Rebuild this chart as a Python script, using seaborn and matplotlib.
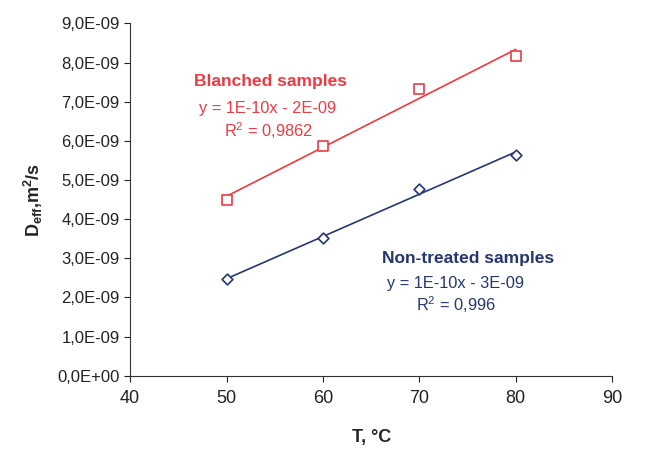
import numpy as np
import pandas as pd
import matplotlib
matplotlib.use('Agg')
import matplotlib.pyplot as plt
import seaborn as sns
from matplotlib.ticker import FuncFormatter, MultipleLocator

# data
temp = [50, 60, 70, 80]
blanched = [4.48e-09, 5.87e-09, 7.33e-09, 8.16e-09]
non_treated = [2.46e-09, 3.52e-09, 4.77e-09, 5.64e-09]

red = '#EE3A43'
navy = '#263672'

sns.set_style('ticks')
plt.rcParams['font.family'] = ['Liberation Sans', 'DejaVu Sans']
plt.rcParams['mathtext.fontset'] = 'custom'
plt.rcParams['mathtext.rm'] = 'Liberation Sans'
plt.rcParams['mathtext.bf'] = 'Liberation Sans:bold'

df = pd.DataFrame({'T': temp + temp,
                   'D': blanched + non_treated,
                   'group': ['Blanched'] * 4 + ['Non-treated'] * 4})

fig, ax = plt.subplots(figsize=(6.54, 4.49), dpi=100)
fig.subplots_adjust(left=0.199, right=0.936, top=0.948, bottom=0.163)

# trend lines
sns.regplot(data=df[df.group == 'Blanched'], x='T', y='D', ci=None, scatter=False,
            ax=ax, line_kws={'color': red, 'lw': 1.2})
sns.regplot(data=df[df.group == 'Non-treated'], x='T', y='D', ci=None, scatter=False,
            ax=ax, line_kws={'color': navy, 'lw': 1.2})

# markers
sns.scatterplot(data=df[df.group == 'Blanched'], x='T', y='D', marker='s', s=45,
                facecolor='white', edgecolor=red, linewidth=1.2, ax=ax, zorder=3)
sns.scatterplot(data=df[df.group == 'Non-treated'], x='T', y='D', marker='D', s=30,
                facecolor='white', edgecolor=navy, linewidth=1.2, ax=ax, zorder=3)

ax.set_xlim(40, 90)
ax.set_ylim(0, 9e-09)
ax.xaxis.set_major_locator(MultipleLocator(10))
ax.yaxis.set_major_locator(MultipleLocator(1e-09))
ax.yaxis.set_major_formatter(FuncFormatter(lambda v, p: f'{v:.1E}'.replace('.', ',')))
ax.yaxis.get_offset_text().set_visible(False)
ax.tick_params(axis='y', labelsize=12, colors='#222222', length=4)
ax.tick_params(axis='x', labelsize=13, colors='#222222', length=4, pad=6)
sns.despine(ax=ax)
for sp in ['left', 'bottom']:
    ax.spines[sp].set_color('#333333')

ax.set_xlabel('T, °C', fontsize=13, fontweight='bold', labelpad=16)
ax.set_ylabel(r'$\mathbf{D_{eff}}$,$\mathbf{m^2}$/s', fontsize=13, fontweight='bold', labelpad=9)

# annotations
ax.text(54.6, 7.51e-09, 'Blanched samples', color=red, fontsize=12.5, fontweight='bold',
        ha='center', va='center')
ax.text(54.3, 6.83e-09, 'y = 1E-10x - 2E-09', color=red, fontsize=11.8, ha='center', va='center')
ax.text(54.3, 6.26e-09, r'R$^2$ = 0,9862', color=red, fontsize=11.8, ha='center', va='center')

ax.text(75.1, 2.99e-09, 'Non-treated samples', color=navy, fontsize=12.5, fontweight='bold',
        ha='center', va='center')
ax.text(73.8, 2.36e-09, 'y = 1E-10x - 3E-09', color=navy, fontsize=11.8, ha='center', va='center')
ax.text(73.8, 1.81e-09, r'R$^2$ = 0,996', color=navy, fontsize=11.8, ha='center', va='center')

fig.savefig('out.png', dpi=100)
